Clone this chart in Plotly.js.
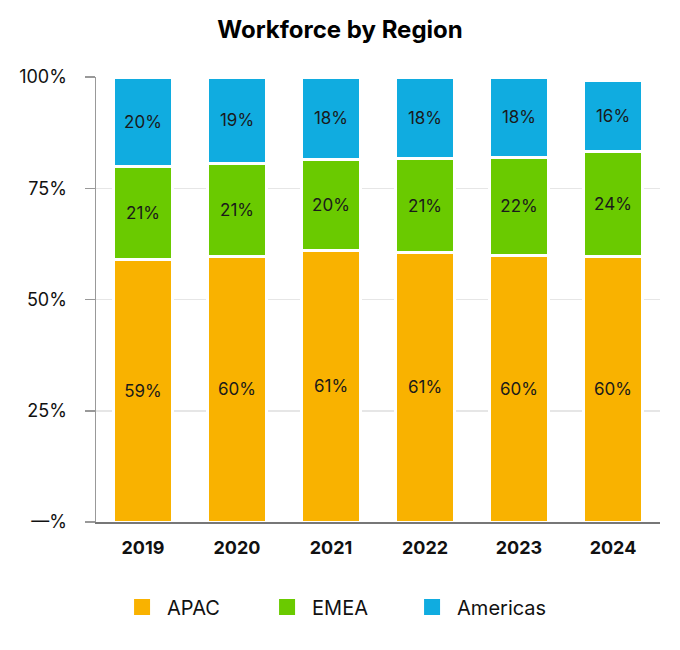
<!DOCTYPE html>
<html>
<head>
<meta charset="utf-8">
<script src="https://cdn.plot.ly/plotly-3.0.1.min.js"></script>
<style>html,body{margin:0;padding:0;background:#fff;}#chart{width:680px;height:650px;}</style>
</head>
<body>
<div id="chart"></div>
<script>
// Data (percent share of workforce)
const years = ['2019', '2020', '2021', '2022', '2023', '2024'];
const apac = [59.0, 59.6, 61.1, 60.6, 59.8, 59.6];
const emea = [20.8, 21.0, 20.4, 21.0, 22.2, 23.6];
const americas = [20.2, 19.3, 18.4, 18.4, 18.0, 16.0];
const seriesNames = ['APAC', 'EMEA', 'Americas'];
const yTickVals = [0, 25, 50, 75, 100];
const yTickText = ['—%', '25%', '50%', '75%', '100%'];

const colors = ['#F9B200', '#6ACA00', '#10ACE0'];
const FONT = 'Inter, "Open Sans", sans-serif';
const seriesVals = [apac, emea, americas];

const traces = seriesVals.map((vals, i) => ({
  type: 'bar',
  name: seriesNames[i],
  x: years,
  y: vals,
  legendgroup: seriesNames[i],
  showlegend: false,
  marker: {color: colors[i], line: {color: '#ffffff', width: 3}},
  texttemplate: '%{y:.0f}%',
  textposition: 'inside',
  insidetextanchor: 'middle',
  textangle: 0,
  constraintext: 'none',
  textfont: {family: FONT, size: 17, color: '#1a1a1a'},
  hoverinfo: 'x+y+name'
}));

// legend-only entries (larger square symbols)
seriesNames.forEach((n, i) => {
  traces.push({
    type: 'scatter',
    mode: 'markers',
    name: n,
    x: [null],
    y: [null],
    legendgroup: n,
    showlegend: true,
    marker: {symbol: 'square', size: 18, color: colors[i]},
    hoverinfo: 'skip'
  });
});

const layout = {
  width: 680,
  height: 650,
  paper_bgcolor: '#ffffff',
  plot_bgcolor: '#ffffff',
  barmode: 'stack',
  bargap: 0.38,
  margin: {l: 96, r: 20, t: 77, b: 128},
  font: {family: FONT, color: '#111111'},
  title: {
    text: '<b>Workforce by Region</b>',
    font: {family: FONT, size: 24, color: '#000000'},
    x: 0.5, xref: 'container', xanchor: 'center',
    y: 1 - 30 / 650, yref: 'container', yanchor: 'middle'
  },
  xaxis: {
    type: 'category',
    tickfont: {family: FONT, size: 18, color: '#111111', weight: 'bold'},
    showgrid: false,
    showline: true,
    linecolor: '#777777',
    linewidth: 2,
    ticks: '',
    ticklabelstandoff: 8,
    fixedrange: true
  },
  yaxis: {
    range: [0, 100],
    tickvals: yTickVals,
    ticktext: yTickText,
    tickfont: {family: FONT, size: 18, color: '#111111'},
    showgrid: true,
    gridcolor: '#e6e6e6',
    gridwidth: 1.5,
    zeroline: false,
    showline: true,
    linecolor: '#999999',
    linewidth: 1.5,
    ticks: 'outside',
    ticklen: 10,
    tickcolor: '#999999',
    tickwidth: 1.5,
    ticklabelstandoff: 14,
    fixedrange: true
  },
  showlegend: true,
  legend: {
    orientation: 'h',
    xref: 'container', x: 0.492, xanchor: 'center',
    yref: 'container', y: 1 - 607 / 650, yanchor: 'middle',
    font: {family: FONT, size: 20, color: '#111111'},
    entrywidth: 90,
    itemwidth: 40,
    itemsizing: 'trace',
    traceorder: 'normal'
  }
};

Plotly.newPlot('chart', traces, layout, {displayModeBar: false, staticPlot: true});
</script>
</body>
</html>
